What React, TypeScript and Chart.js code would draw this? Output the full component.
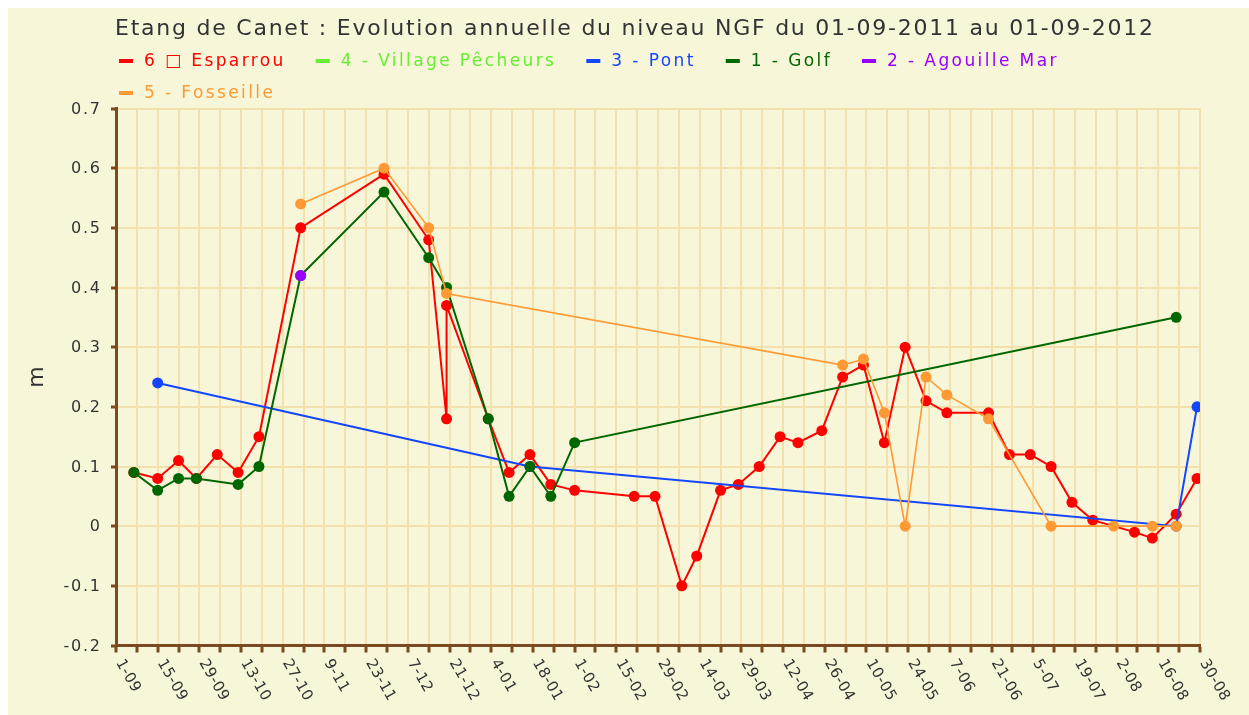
import React, { useEffect, useRef } from 'react';
import { Chart, registerables } from 'chart.js';

Chart.register(...registerables);

// ---------- text ----------
const titleText = 'Etang de Canet : Evolution annuelle du niveau NGF du 01-09-2011 au 01-09-2012';
const yAxisTitle = 'm';

// tick labels every 14 days from 1-09-2011 (day 0) to 30-08-2012 (day 364)
const xTickLabels = [
  '1-09', '15-09', '29-09', '13-10', '27-10', '9-11', '23-11', '7-12', '21-12',
  '4-01', '18-01', '1-02', '15-02', '29-02', '14-03', '29-03', '12-04', '26-04',
  '10-05', '24-05', '7-06', '21-06', '5-07', '19-07', '2-08', '16-08', '30-08',
];
const xLabelStepDays = 14;
const xGridStepDays = 7;
const xMaxDay = 364;
const yMin = -0.2;
const yMax = 0.7;
const yStep = 0.1;

// ---------- series (x = days since 1-09-2011, y = level in m) ----------
const seriesNames = ['6 \u25A1 Esparrou', '4 - Village P\u00EAcheurs', '3 - Pont', '1 - Golf', '2 - Agouille Mar', '5 - Fosseille'];
const seriesColors = ['#FF0000', '#66EE33', '#1446FF', '#006600', '#9900FF', '#FF9933'];

const esparrouDays = [6, 14, 21, 27, 34, 41, 48, 62, 90, 105, 111, 111, 125, 132, 139, 146, 154, 174, 181, 190, 195, 203, 209, 216, 223, 229, 237, 244, 251, 258, 265, 272, 279, 293, 300, 307, 314, 321, 328, 342, 348, 356, 363];
const esparrouLevels = [0.09, 0.08, 0.11, 0.08, 0.12, 0.09, 0.15, 0.50, 0.59, 0.48, 0.18, 0.37, 0.18, 0.09, 0.12, 0.07, 0.06, 0.05, 0.05, -0.10, -0.05, 0.06, 0.07, 0.10, 0.15, 0.14, 0.16, 0.25, 0.27, 0.14, 0.30, 0.21, 0.19, 0.19, 0.12, 0.12, 0.10, 0.04, 0.01, -0.01, -0.02, 0.02, 0.08];

const villageDays: number[] = [];
const villageLevels: number[] = [];

const pontDays = [14, 139, 356, 363];
const pontLevels = [0.24, 0.10, 0.00, 0.20];

const golfDays = [6, 14, 21, 27, 41, 48, 62, 90, 105, 111, 125, 132, 139, 146, 154, 356];
const golfLevels = [0.09, 0.06, 0.08, 0.08, 0.07, 0.10, 0.42, 0.56, 0.45, 0.40, 0.18, 0.05, 0.10, 0.05, 0.14, 0.35];

const agouilleDays = [62];
const agouilleLevels = [0.42];

const fosseilleDays = [62, 90, 105, 111, 244, 251, 258, 265, 272, 279, 293, 314, 335, 348, 356];
const fosseilleLevels = [0.54, 0.60, 0.50, 0.39, 0.27, 0.28, 0.19, 0.00, 0.25, 0.22, 0.18, 0.00, 0.00, 0.00, 0.00];

const allDays = [esparrouDays, villageDays, pontDays, golfDays, agouilleDays, fosseilleDays];
const allLevels = [esparrouLevels, villageLevels, pontLevels, golfLevels, agouilleLevels, fosseilleLevels];

// ---------- styles ----------
const BG = '#F8F6D8';
const GRID = '#F2E1AC';
const AXIS = '#7B4A1F';
const TEXT = '#333333';
const FONT = '"DejaVu Sans", Verdana, sans-serif';

function setLS(ctx: any, px: number) {
  if ('letterSpacing' in ctx) ctx.letterSpacing = px + 'px';
}

const textPlugin = {
  id: 'customText',
  afterDraw(chart: any) {
    const ctx = chart.ctx as CanvasRenderingContext2D;
    const xs = chart.scales.x;
    const ys = chart.scales.y;
    const W = chart.width;

    // title
    ctx.save();
    ctx.fillStyle = TEXT;
    ctx.textAlign = 'left';
    ctx.textBaseline = 'alphabetic';
    ctx.font = '22px ' + FONT;
    setLS(ctx, 0);
    const tw = ctx.measureText(titleText).width;
    const ls = (1038 - tw) / (titleText.length - 1);
    setLS(ctx, ls);
    ctx.fillText(titleText, 107, 27);
    ctx.restore();

    // legend
    ctx.save();
    ctx.font = '17px ' + FONT;
    setLS(ctx, 2.4);
    ctx.textBaseline = 'middle';
    ctx.textAlign = 'left';
    let lx = 111;
    let ly = 53;
    seriesNames.forEach((name, i) => {
      const w = ctx.measureText(name).width;
      const itemW = 25 + w;
      if (lx + itemW > W - 8) {
        lx = 111;
        ly += 32;
      }
      ctx.fillStyle = seriesColors[i];
      ctx.fillRect(lx, ly - 2, 14, 4);
      ctx.fillText(name, lx + 25, ly + 1);
      lx += itemW + 30;
    });
    ctx.restore();

    // y tick labels
    ctx.save();
    ctx.fillStyle = TEXT;
    ctx.font = '16px ' + FONT;
    setLS(ctx, 1.8);
    ctx.textAlign = 'right';
    ctx.textBaseline = 'middle';
    ys.ticks.forEach((t: any) => {
      const v = Number(t.value.toFixed(1));
      const y = ys.getPixelForValue(t.value);
      ctx.fillText(String(v), 92 + 1.8, y + 1);
    });
    ctx.restore();

    // y title
    ctx.save();
    ctx.fillStyle = TEXT;
    ctx.font = '22px ' + FONT;
    ctx.textAlign = 'center';
    ctx.textBaseline = 'middle';
    ctx.translate(29, (ys.top + ys.bottom) / 2);
    ctx.rotate(-Math.PI / 2);
    ctx.fillText(yAxisTitle, 0, 0);
    ctx.restore();

    // x tick labels (rotated clockwise)
    ctx.save();
    ctx.fillStyle = TEXT;
    ctx.font = '15px ' + FONT;
    setLS(ctx, 0.4);
    ctx.textAlign = 'left';
    ctx.textBaseline = 'middle';
    xTickLabels.forEach((lab, i) => {
      const px = xs.getPixelForValue(i * xLabelStepDays);
      ctx.save();
      ctx.translate(px + 3, xs.top + 15);
      ctx.rotate((60 * Math.PI) / 180);
      ctx.fillText(lab, 0, 0);
      ctx.restore();
    });
    ctx.restore();
  },
};

export default function App() {
  const ref = useRef<HTMLCanvasElement | null>(null);

  useEffect(() => {
    if (!ref.current) return;
    const drawOrder = [5, 4, 3, 2, 1, 0]; // later series drawn on top
    const datasets = seriesNames.map((name, i) => ({
      label: name,
      data: allDays[i].map((d, k) => ({ x: d, y: allLevels[i][k] })),
      borderColor: seriesColors[i],
      backgroundColor: seriesColors[i],
      pointBackgroundColor: seriesColors[i],
      pointBorderColor: seriesColors[i],
      pointRadius: 5.5,
      pointBorderWidth: 0,
      borderWidth: i === 5 ? 1.6 : 2,
      tension: 0,
      order: drawOrder[i],
    }));

    const chart = new Chart(ref.current, {
      type: 'line',
      data: { datasets },
      options: {
        animation: false,
        responsive: true,
        maintainAspectRatio: false,
        events: [],
        layout: { padding: { left: 100, right: 49, top: 100.5, bottom: 61.5 } },
        plugins: {
          legend: { display: false },
          title: { display: false },
          tooltip: { enabled: false },
        },
        scales: {
          x: {
            type: 'linear',
            min: 0,
            max: xMaxDay,
            ticks: { display: false, stepSize: xGridStepDays },
            grid: { color: GRID, lineWidth: 2, tickColor: AXIS, tickLength: 7, tickWidth: 3 },
            border: { color: AXIS, width: 3 },
            afterFit: (s: any) => { s.height = 8; },
          },
          y: {
            type: 'linear',
            min: yMin,
            max: yMax,
            ticks: { display: false, stepSize: yStep },
            grid: { color: GRID, lineWidth: 2, tickColor: AXIS, tickLength: 5, tickWidth: 3 },
            border: { color: AXIS, width: 3 },
            afterFit: (s: any) => { s.width = 8; },
          },
        },
      } as any,
      plugins: [textPlugin],
    });
    return () => chart.destroy();
  }, []);

  return (
    <div style={{ position: 'absolute', left: 8, top: 8, width: 1241, height: 707, background: BG }}>
      <canvas ref={ref} />
    </div>
  );
}
